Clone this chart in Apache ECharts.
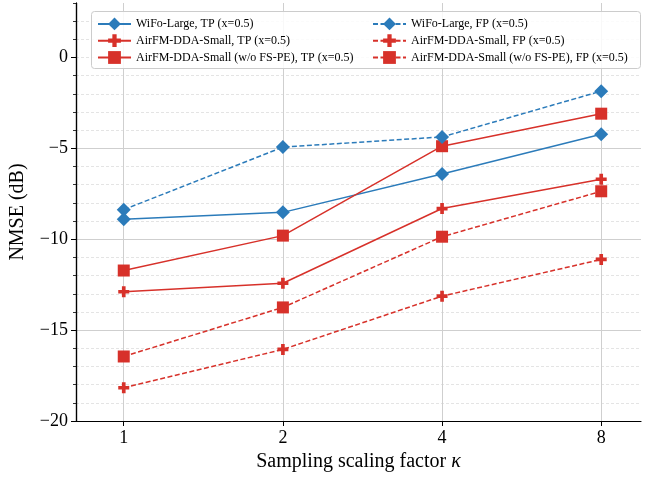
<!DOCTYPE html>
<html><head><meta charset="utf-8">
<script src="https://cdn.jsdelivr.net/npm/echarts@6/dist/echarts.min.js"></script>
<style>html,body{margin:0;padding:0;background:#fff}#c{width:645px;height:479px}</style>
</head><body><div id="c"></div>
<script>
// ---- data ----
const kappa = [1, 2, 4, 8];
const yTickLabels = [-20, -15, -10, -5, 0];
const wifoTP = [-8.90, -8.52, -6.41, -4.22];
const wifoFP = [-8.37, -4.93, -4.37, -1.85];
const airTP  = [-12.89, -12.42, -8.31, -6.70];
const airFP  = [-18.17, -16.06, -13.13, -11.11];
const woTP   = [-11.72, -9.80, -4.88, -3.09];
const woFP   = [-16.45, -13.75, -9.86, -7.36];
const names = [
  'WiFo-Large, TP (x=0.5)',
  'AirFM-DDA-Small, TP (x=0.5)',
  'AirFM-DDA-Small (w/o FS-PE), TP (x=0.5)',
  'WiFo-Large, FP (x=0.5)',
  'AirFM-DDA-Small, FP (x=0.5)',
  'AirFM-DDA-Small (w/o FS-PE), FP (x=0.5)'
];

const BLUE = '#2b7bba', RED = '#d7312a';
const FONT = '"Liberation Serif", "Times New Roman", serif';
const PLUS = 'path://M1,0H2V1H3V2H2V3H1V2H0V1H1Z';
const pair = arr => kappa.map((k, i) => [k, arr[i]]);

function mk(name, arr, color, symbol, size, dashed) {
  return {
    name, type: 'line', data: pair(arr), yAxisIndex: 1,
    symbol, symbolSize: size, showSymbol: true,
    lineStyle: { color, width: 1.5, type: dashed ? [5, 2.5] : 'solid' },
    itemStyle: { color },
    emphasis: { disabled: true }, animation: false, z: 3
  };
}

const series = [
  mk(names[0], wifoTP, BLUE, 'diamond', 14, false),
  mk(names[1], airTP, RED, PLUS, 11, false),
  mk(names[2], woTP, RED, 'rect', 12, false),
  mk(names[3], wifoFP, BLUE, 'diamond', 14, true),
  mk(names[4], airFP, RED, PLUS, 11, true),
  mk(names[5], woFP, RED, 'rect', 12, true)
];

const legendCommon = {
  orient: 'vertical', top: 17.5, itemWidth: 33, itemHeight: 16, itemGap: 4,
  textStyle: { fontFamily: FONT, fontSize: 12, color: '#000' },
  padding: 0, selectedMode: false, z: 10
};

const chart = echarts.init(document.getElementById('c'), null, { renderer: 'canvas' });
chart.setOption({
  animation: false,
  backgroundColor: '#fff',
  grid: { left: 73, right: 4, top: 3, bottom: 58, containLabel: false },
  graphic: [{
    type: 'rect', z: 5, left: 91, top: 11,
    shape: { width: 549, height: 57, r: 3 },
    style: { fill: 'rgba(255,255,255,0.85)', stroke: '#cccccc', lineWidth: 1 }
  }],
  legend: [
    Object.assign({}, legendCommon, { left: 97, data: names.slice(0, 3) }),
    Object.assign({}, legendCommon, { left: 372, data: names.slice(3) })
  ],
  xAxis: {
    type: 'log', logBase: 2, min: Math.pow(2, -0.3), max: Math.pow(2, 3.25),
    name: 'Sampling scaling factor {i|κ}', nameLocation: 'middle', nameGap: 30,
    nameTextStyle: { fontFamily: FONT, fontSize: 20, color: '#000',
      rich: { i: { fontFamily: FONT, fontSize: 20, fontStyle: 'italic', color: '#000' } } },
    axisLine: { show: true, onZero: false, lineStyle: { color: '#000', width: 1.2 } },
    axisTick: { show: true, inside: false, length: 5, customValues: kappa, lineStyle: { color: '#000', width: 1 } },
    axisLabel: { customValues: kappa, margin: 8, fontFamily: FONT, fontSize: 18, color: '#000',
      formatter: v => String(Math.round(v)) },
    splitLine: { show: true, lineStyle: { color: '#cfcfcf', width: 1 } },
    minorTick: { show: false }, minorSplitLine: { show: false }
  },
  yAxis: [
    {
      type: 'value', min: -20, max: 3, interval: 1, position: 'left',
      axisLine: { show: true, lineStyle: { color: '#000', width: 1.2 } },
      axisTick: { show: true, length: 3, lineStyle: { color: '#000', width: 0.8 } },
      axisLabel: { show: false },
      splitLine: { show: true, showMaxLine: false, lineStyle: { color: '#e4e4e4', width: 1, type: [3, 2] } }
    },
    {
      type: 'value', min: -20, max: 3, interval: 5, position: 'left',
      name: 'NMSE (dB)', nameLocation: 'middle', nameGap: 48, nameRotate: 90,
      nameTextStyle: { fontFamily: FONT, fontSize: 20, color: '#000' },
      axisLine: { show: true, lineStyle: { color: '#000', width: 1.2 } },
      axisTick: { show: true, length: 5, customValues: yTickLabels, lineStyle: { color: '#000', width: 1 } },
      axisLabel: { customValues: yTickLabels, margin: 8, fontFamily: FONT, fontSize: 18, color: '#000',
        formatter: v => String(v).replace('-', '\u2212') },
      splitLine: { show: true, showMaxLine: false, lineStyle: { color: '#cfcfcf', width: 1 } }
    }
  ],
  series
});
</script></body></html>
